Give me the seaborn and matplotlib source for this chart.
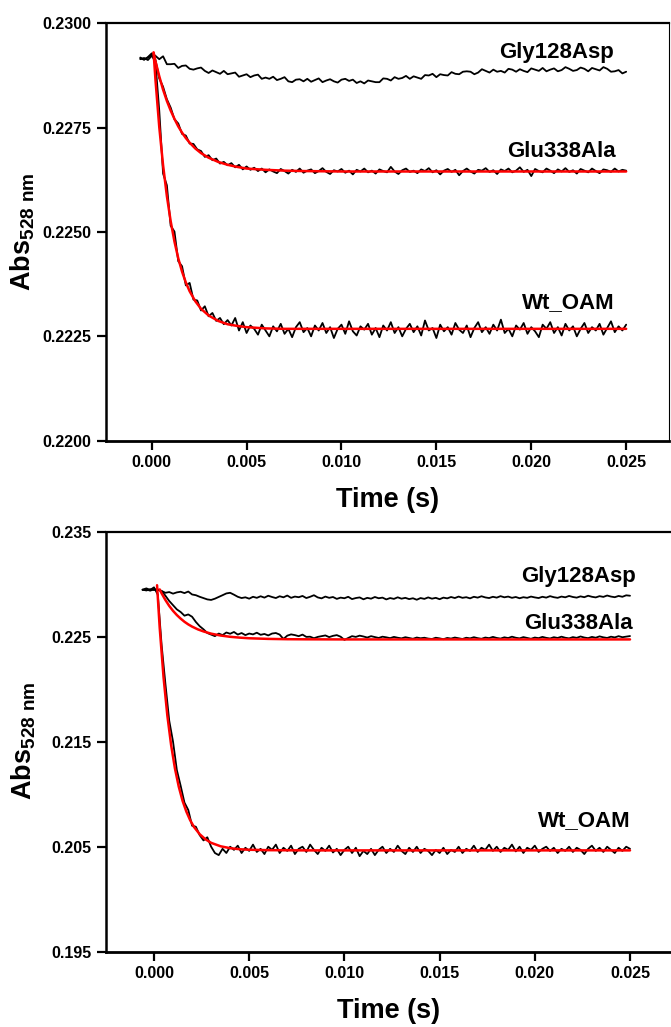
import numpy as np
import matplotlib
matplotlib.use("Agg")
import matplotlib.pyplot as plt
from matplotlib.ticker import FormatStrFormatter
import seaborn as sns

# stopped-flow sampling times (s)
trace_time = np.linspace(-0.0006, 0.025, 129)

# ---- upper panel: raw traces (Abs 528 nm) ----
top_gly128asp = [
    0.22918, 0.22913, 0.22919, 0.22928, 0.22922, 0.22914, 0.22921, 0.22902, 0.22902, 0.22903,
    0.22893, 0.22898, 0.22899, 0.22891, 0.22889, 0.22892, 0.22894, 0.22886, 0.22881, 0.22887,
    0.22883, 0.22879, 0.22886, 0.22878, 0.22880, 0.22882, 0.22872, 0.22875, 0.22878, 0.22871,
    0.22875, 0.22877, 0.22867, 0.22870, 0.22867, 0.22872, 0.22864, 0.22867, 0.22871, 0.22861,
    0.22859, 0.22865, 0.22866, 0.22861, 0.22867, 0.22860, 0.22864, 0.22868, 0.22859, 0.22863,
    0.22866, 0.22861, 0.22858, 0.22865, 0.22867, 0.22862, 0.22865, 0.22857, 0.22861, 0.22856,
    0.22863, 0.22861, 0.22859, 0.22859, 0.22868, 0.22867, 0.22863, 0.22871, 0.22867, 0.22869,
    0.22874, 0.22867, 0.22873, 0.22870, 0.22867, 0.22876, 0.22875, 0.22879, 0.22871, 0.22878,
    0.22876, 0.22875, 0.22883, 0.22879, 0.22878, 0.22884, 0.22885, 0.22884, 0.22878, 0.22882,
    0.22890, 0.22886, 0.22882, 0.22889, 0.22884, 0.22886, 0.22882, 0.22891, 0.22889, 0.22884,
    0.22890, 0.22886, 0.22883, 0.22892, 0.22889, 0.22886, 0.22893, 0.22885, 0.22889, 0.22892,
    0.22885, 0.22888, 0.22895, 0.22891, 0.22886, 0.22888, 0.22894, 0.22891, 0.22885, 0.22893,
    0.22890, 0.22887, 0.22895, 0.22891, 0.22884, 0.22885, 0.22888, 0.22880, 0.22884]
top_glu338ala = [
    0.22914, 0.22917, 0.22912, 0.22922, 0.22912, 0.22868, 0.22848, 0.22818, 0.22798, 0.22770,
    0.22760, 0.22735, 0.22731, 0.22712, 0.22711, 0.22698, 0.22694, 0.22680, 0.22684, 0.22672,
    0.22676, 0.22664, 0.22668, 0.22660, 0.22665, 0.22655, 0.22661, 0.22650, 0.22657, 0.22649,
    0.22654, 0.22646, 0.22652, 0.22643, 0.22650, 0.22645, 0.22641, 0.22651, 0.22646, 0.22640,
    0.22649, 0.22644, 0.22652, 0.22642, 0.22647, 0.22650, 0.22641, 0.22646, 0.22653, 0.22644,
    0.22639, 0.22648, 0.22645, 0.22651, 0.22642, 0.22647, 0.22638, 0.22649, 0.22645, 0.22652,
    0.22643, 0.22647, 0.22640, 0.22650, 0.22646, 0.22643, 0.22656, 0.22645, 0.22639, 0.22648,
    0.22652, 0.22644, 0.22647, 0.22641, 0.22650, 0.22646, 0.22653, 0.22643, 0.22648, 0.22638,
    0.22647, 0.22651, 0.22644, 0.22649, 0.22636, 0.22646, 0.22652, 0.22645, 0.22640, 0.22649,
    0.22647, 0.22653, 0.22644, 0.22648, 0.22639, 0.22650, 0.22646, 0.22652, 0.22643, 0.22647,
    0.22655, 0.22644, 0.22649, 0.22634, 0.22651, 0.22646, 0.22643, 0.22652, 0.22647, 0.22641,
    0.22650, 0.22645, 0.22653, 0.22644, 0.22648, 0.22640, 0.22651, 0.22647, 0.22643, 0.22652,
    0.22646, 0.22641, 0.22650, 0.22648, 0.22644, 0.22652, 0.22645, 0.22649, 0.22647]
top_wt_oam = [
    0.22916, 0.22913, 0.22918, 0.22925, 0.22905, 0.22790, 0.22640, 0.22612, 0.22515, 0.22501,
    0.22430, 0.22418, 0.22372, 0.22378, 0.22338, 0.22336, 0.22312, 0.22322, 0.22298, 0.22306,
    0.22287, 0.22294, 0.22279, 0.22289, 0.22276, 0.22294, 0.22264, 0.22284, 0.22258, 0.22276,
    0.22268, 0.22254, 0.22278, 0.22264, 0.22250, 0.22274, 0.22262, 0.22280, 0.22256, 0.22268,
    0.22248, 0.22272, 0.22284, 0.22260, 0.22270, 0.22250, 0.22276, 0.22264, 0.22282, 0.22258,
    0.22272, 0.22246, 0.22268, 0.22278, 0.22256, 0.22286, 0.22262, 0.22252, 0.22274, 0.22266,
    0.22280, 0.22254, 0.22270, 0.22248, 0.22276, 0.22264, 0.22284, 0.22258, 0.22272, 0.22250,
    0.22268, 0.22280, 0.22260, 0.22274, 0.22252, 0.22288, 0.22264, 0.22270, 0.22246, 0.22278,
    0.22262, 0.22272, 0.22254, 0.22282, 0.22266, 0.22258, 0.22276, 0.22248, 0.22270, 0.22284,
    0.22260, 0.22272, 0.22256, 0.22278, 0.22264, 0.22290, 0.22258, 0.22268, 0.22250, 0.22276,
    0.22266, 0.22282, 0.22256, 0.22272, 0.22262, 0.22248, 0.22278, 0.22268, 0.22284, 0.22258,
    0.22272, 0.22252, 0.22280, 0.22264, 0.22274, 0.22250, 0.22268, 0.22282, 0.22258, 0.22272,
    0.22264, 0.22280, 0.22254, 0.22270, 0.22286, 0.22260, 0.22274, 0.22264, 0.22278]

# upper panel: single-exponential fits (red)
top_fit_time = [0.0001, 0.0002, 0.0004, 0.0006, 0.0008, 0.0010, 0.0012, 0.0014, 0.0016, 0.0018,
                0.0020, 0.0023, 0.0026, 0.0030, 0.0035, 0.0040, 0.0045, 0.0050, 0.0060, 0.0070,
                0.0080, 0.0100, 0.0130, 0.0250]
top_fit_glu = [0.22930, 0.22909, 0.22873, 0.22841, 0.22814, 0.22791, 0.22771, 0.22753, 0.22738, 0.22725,
               0.22714, 0.22700, 0.22689, 0.22678, 0.22668, 0.22661, 0.22656, 0.22652, 0.22649, 0.22647,
               0.22646, 0.22645, 0.22645, 0.22645]
top_fit_wt = [0.22930, 0.22864, 0.22751, 0.22660, 0.22586, 0.22526, 0.22477, 0.22437, 0.22405, 0.22379,
              0.22358, 0.22334, 0.22316, 0.22300, 0.22287, 0.22279, 0.22275, 0.22272, 0.22269, 0.22268,
              0.22268, 0.22268, 0.22268, 0.22268]

# ---- lower panel: raw traces ----
bot_gly128asp = [
    0.22948, 0.22940, 0.22952, 0.22944, 0.22950, 0.22935, 0.22918, 0.22925, 0.22910, 0.22922,
    0.22928, 0.22915, 0.22930, 0.22902, 0.22895, 0.22880, 0.22868, 0.22855, 0.22850, 0.22862,
    0.22878, 0.22895, 0.22912, 0.22918, 0.22900, 0.22880, 0.22868, 0.22875, 0.22862, 0.22880,
    0.22870, 0.22885, 0.22872, 0.22890, 0.22878, 0.22868, 0.22885, 0.22875, 0.22892, 0.22870,
    0.22882, 0.22876, 0.22888, 0.22868, 0.22880, 0.22895, 0.22874, 0.22865, 0.22882, 0.22870,
    0.22878, 0.22860, 0.22872, 0.22866, 0.22880, 0.22858, 0.22868, 0.22874, 0.22856, 0.22870,
    0.22862, 0.22878, 0.22866, 0.22872, 0.22855, 0.22868, 0.22860, 0.22875, 0.22862, 0.22870,
    0.22858, 0.22866, 0.22852, 0.22868, 0.22860, 0.22874, 0.22862, 0.22870, 0.22857, 0.22872,
    0.22865, 0.22878, 0.22868, 0.22882, 0.22870, 0.22876, 0.22865, 0.22880, 0.22872, 0.22885,
    0.22874, 0.22868, 0.22880, 0.22872, 0.22886, 0.22875, 0.22882, 0.22870, 0.22878, 0.22866,
    0.22876, 0.22870, 0.22882, 0.22874, 0.22868, 0.22880, 0.22872, 0.22886, 0.22876, 0.22870,
    0.22882, 0.22875, 0.22888, 0.22878, 0.22872, 0.22884, 0.22876, 0.22890, 0.22880, 0.22874,
    0.22886, 0.22879, 0.22892, 0.22882, 0.22876, 0.22888, 0.22880, 0.22894, 0.22890]
bot_glu338ala = [
    0.22945, 0.22950, 0.22938, 0.22952, 0.22946, 0.22935, 0.22890, 0.22840, 0.22800, 0.22760,
    0.22735, 0.22700, 0.22712, 0.22690, 0.22640, 0.22600, 0.22570, 0.22535, 0.22520, 0.22505,
    0.22530, 0.22515, 0.22540, 0.22528, 0.22545, 0.22520, 0.22535, 0.22515, 0.22530, 0.22522,
    0.22538, 0.22518, 0.22526, 0.22512, 0.22530, 0.22535, 0.22520, 0.22478, 0.22510, 0.22522,
    0.22515, 0.22505, 0.22520, 0.22498, 0.22500, 0.22485, 0.22498, 0.22505, 0.22512, 0.22496,
    0.22508, 0.22515, 0.22500, 0.22470, 0.22488, 0.22505, 0.22498, 0.22510, 0.22502, 0.22492,
    0.22505, 0.22496, 0.22488, 0.22500, 0.22494, 0.22486, 0.22498, 0.22490, 0.22484, 0.22495,
    0.22488, 0.22480, 0.22492, 0.22485, 0.22490, 0.22482, 0.22478, 0.22490, 0.22484, 0.22476,
    0.22488, 0.22482, 0.22492, 0.22485, 0.22478, 0.22490, 0.22484, 0.22495, 0.22486, 0.22480,
    0.22492, 0.22486, 0.22498, 0.22488, 0.22482, 0.22494, 0.22487, 0.22500, 0.22490, 0.22484,
    0.22496, 0.22488, 0.22480, 0.22492, 0.22486, 0.22498, 0.22489, 0.22483, 0.22495, 0.22488,
    0.22500, 0.22490, 0.22484, 0.22496, 0.22489, 0.22502, 0.22492, 0.22486, 0.22498, 0.22490,
    0.22503, 0.22494, 0.22488, 0.22500, 0.22493, 0.22505, 0.22495, 0.22500, 0.22506]
bot_wt_oam = [
    0.22948, 0.22960, 0.22945, 0.22970, 0.22900, 0.22420, 0.22050, 0.21700, 0.21500, 0.21230,
    0.21080, 0.20920, 0.20850, 0.20700, 0.20690, 0.20610, 0.20560, 0.20590, 0.20500, 0.20440,
    0.20420, 0.20480, 0.20440, 0.20500, 0.20470, 0.20510, 0.20440, 0.20490, 0.20460, 0.20520,
    0.20450, 0.20480, 0.20430, 0.20500, 0.20470, 0.20520, 0.20440, 0.20490, 0.20460, 0.20510,
    0.20430, 0.20480, 0.20500, 0.20450, 0.20520, 0.20470, 0.20430, 0.20490, 0.20460, 0.20510,
    0.20445, 0.20480, 0.20420, 0.20470, 0.20500, 0.20440, 0.20490, 0.20410, 0.20460, 0.20430,
    0.20480, 0.20420, 0.20470, 0.20500, 0.20440, 0.20480, 0.20450, 0.20510, 0.20460, 0.20430,
    0.20490, 0.20450, 0.20500, 0.20440, 0.20480, 0.20460, 0.20420, 0.20470, 0.20440, 0.20490,
    0.20430, 0.20470, 0.20450, 0.20500, 0.20440, 0.20480, 0.20460, 0.20510, 0.20450, 0.20490,
    0.20470, 0.20520, 0.20460, 0.20500, 0.20450, 0.20490, 0.20470, 0.20520, 0.20455, 0.20500,
    0.20440, 0.20490, 0.20470, 0.20510, 0.20450, 0.20480, 0.20500, 0.20460, 0.20490, 0.20440,
    0.20480, 0.20460, 0.20500, 0.20450, 0.20490, 0.20470, 0.20430, 0.20480, 0.20510, 0.20460,
    0.20490, 0.20450, 0.20500, 0.20470, 0.20440, 0.20490, 0.20460, 0.20500, 0.20480]

# lower panel: fits
bot_fit_glu_time = [0.0003, 0.0004, 0.0006, 0.0008, 0.0010, 0.0012, 0.0014, 0.0016, 0.0018, 0.0020,
                    0.0023, 0.0026, 0.0030, 0.0035, 0.0040, 0.0045, 0.0050, 0.0060, 0.0070, 0.0080,
                    0.0100, 0.0130, 0.0250]
bot_fit_glu = [0.22950, 0.22913, 0.22849, 0.22793, 0.22746, 0.22706, 0.22672, 0.22642, 0.22617, 0.22596,
               0.22570, 0.22550, 0.22529, 0.22511, 0.22499, 0.22491, 0.22485, 0.22479, 0.22476, 0.22475,
               0.22474, 0.22474, 0.22474]
bot_fit_wt_time = [0.00016, 0.0003, 0.0005, 0.0007, 0.0009, 0.0011, 0.0013, 0.0015, 0.0017, 0.0019,
                   0.0021, 0.0024, 0.0027, 0.0030, 0.0035, 0.0040, 0.0045, 0.0050, 0.0060, 0.0080,
                   0.0100, 0.0130, 0.0250]
bot_fit_wt = [0.22990, 0.22584, 0.22116, 0.21750, 0.21467, 0.21245, 0.21072, 0.20937, 0.20834, 0.20752,
              0.20688, 0.20619, 0.20571, 0.20537, 0.20504, 0.20486, 0.20476, 0.20471, 0.20467, 0.20465,
              0.20465, 0.20465, 0.20465]

mutant_names = ["Gly128Asp", "Glu338Ala", "Wt_OAM"]
top_label_pos = [(0.02437, 0.22930), (0.02447, 0.22693), (0.02437, 0.22330)]
bot_label_pos = [(0.02530, 0.23075), (0.02516, 0.22630), (0.02505, 0.20745)]

sns.set_style("ticks")
plt.rcParams['font.family'] = ['Liberation Sans', 'DejaVu Sans']
plt.rcParams['mathtext.fontset'] = 'custom'
plt.rcParams['mathtext.rm'] = 'Liberation Sans'
plt.rcParams['mathtext.bf'] = 'Liberation Sans:bold'
for key in ['axes.edgecolor', 'xtick.color', 'ytick.color', 'text.color',
            'axes.labelcolor', 'xtick.labelcolor', 'ytick.labelcolor']:
    plt.rcParams[key] = 'black'

fig = plt.figure(figsize=(6.71, 10.27), dpi=100)
ax1 = fig.add_axes([0.1575, 0.5709, 0.8402, 0.4064])
ax2 = fig.add_axes([0.1580, 0.0733, 0.8420, 0.4090])

panels = [
    (ax1, [top_gly128asp, top_glu338ala, top_wt_oam],
     [(top_fit_time, top_fit_glu), (top_fit_time, top_fit_wt)],
     top_label_pos, (-0.002424, 0.027281), (0.2200, 0.2300),
     [0.2200, 0.2225, 0.2250, 0.2275, 0.2300], '%.4f'),
    (ax2, [bot_gly128asp, bot_glu338ala, bot_wt_oam],
     [(bot_fit_glu_time, bot_fit_glu), (bot_fit_wt_time, bot_fit_wt)],
     bot_label_pos, (-0.00252, 0.027153), (0.195, 0.235),
     [0.195, 0.205, 0.215, 0.225, 0.235], '%.3f'),
]

for ax, traces, fits, label_pos, xlim, ylim, yticks, yfmt in panels:
    for trace in traces:
        sns.lineplot(x=trace_time, y=trace, ax=ax, color='black', lw=1.3,
                     estimator=None, sort=False)
    for ft, fv in fits:
        sns.lineplot(x=ft, y=fv, ax=ax, color='#ff0000', lw=1.8,
                     estimator=None, sort=False)
    for name, (lx, ly) in zip(mutant_names, label_pos):
        ax.text(lx, ly, name, ha='right', va='center', fontsize=16, fontweight='bold')

    ax.set_xlim(*xlim)
    ax.set_ylim(*ylim)
    ax.set_xticks([0.000, 0.005, 0.010, 0.015, 0.020, 0.025])
    ax.set_yticks(yticks)
    ax.xaxis.set_major_formatter(FormatStrFormatter('%.3f'))
    ax.yaxis.set_major_formatter(FormatStrFormatter(yfmt))
    ax.tick_params(direction='out', length=6.5, width=1.6, labelsize=11.5, pad=4)
    for lab in ax.get_xticklabels() + ax.get_yticklabels():
        lab.set_fontweight('bold')
    ax.spines['left'].set_linewidth(1.8)
    ax.spines['bottom'].set_linewidth(2.0)
    ax.spines['top'].set_linewidth(1.6)
    ax.spines['right'].set_linewidth(0.8)
    ax.set_xlabel('Time (s)', fontsize=19.5, fontweight='bold', labelpad=12)
    ax.set_ylabel('')

ax2.spines['right'].set_visible(False)

ylab = r'Abs$_{\mathregular{528\ nm}}$'
fig.text(22.5 / 671, 1 - 232 / 1027, ylab, rotation=90, ha='center', va='center',
         fontsize=19.5, fontweight='bold')
fig.text(24 / 671, 1 - 741 / 1027, ylab, rotation=90, ha='center', va='center',
         fontsize=19.5, fontweight='bold')

fig.savefig('out.png', dpi=100)
